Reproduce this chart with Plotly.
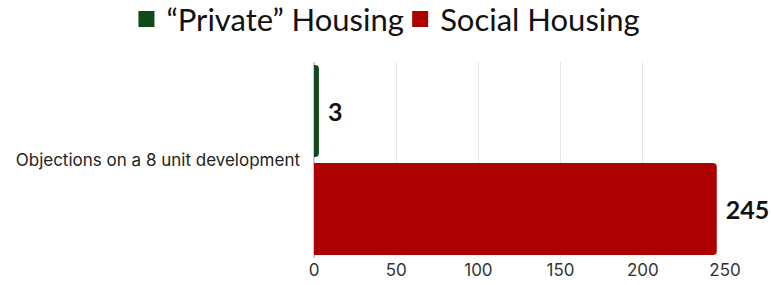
import plotly.graph_objects as go

categories = ["Objections on a 8 unit development"]
private_vals = [3]
social_vals = [245]
series_names = ["“Private” Housing", "Social Housing"]
series_colors = ["#0f4a1c", "#ad0000"]
legend_ids = ["legend", "legend2"]

label_font = dict(family="Lato", size=25, color="#111111", weight="bold")

fig = go.Figure()
for vals, name, color in zip([private_vals, social_vals], series_names, series_colors):
    fig.add_trace(go.Bar(
        y=categories, x=vals, name=name, orientation="h", showlegend=False,
        marker=dict(color=color, line=dict(width=0)),
        text=vals, texttemplate=" %{x}", textposition="outside", cliponaxis=False,
        textfont=label_font,
    ))
# legend entries with square swatches (one legend box per series)
for name, color, lg in zip(series_names, series_colors, legend_ids):
    fig.add_trace(go.Scatter(
        x=[None], y=[None], mode="markers", name=name, legend=lg,
        marker=dict(symbol="square", size=18, color=color),
    ))

legend_common = dict(orientation="h", xanchor="left", xref="container",
                     y=1.08, yanchor="bottom", yref="paper",
                     font=dict(family="Lato", size=31, color="#111111"),
                     itemsizing="trace", bgcolor="rgba(0,0,0,0)")

fig.update_layout(
    width=771, height=285,
    margin=dict(l=314, r=46, t=62, b=27, autoexpand=False),
    paper_bgcolor="white", plot_bgcolor="white",
    barmode="group", bargap=0, bargroupgap=0.06, barcornerradius=4,
    showlegend=True,
    legend=dict(x=0.164, **legend_common),
    legend2=dict(x=0.519, **legend_common),
    font=dict(family="Inter", color="#222222"),
)
fig.update_xaxes(range=[0, 250], tickvals=[0, 50, 100, 150, 200, 250],
                 showgrid=True, gridcolor="#e6e6e6", gridwidth=1,
                 zeroline=True, zerolinecolor="#cccccc", automargin=False,
                 tickfont=dict(family="Inter", size=17, color="#333333"),
                 ticks="", showline=False)
fig.update_yaxes(autorange="reversed", ticks="", showline=False, automargin=False,
                 tickfont=dict(family="Inter", size=17, color="#222222"),
                 ticklabelstandoff=13)

fig.write_html("out.html", config={"displayModeBar": False},
               post_script="document.body.style.margin='0';")
